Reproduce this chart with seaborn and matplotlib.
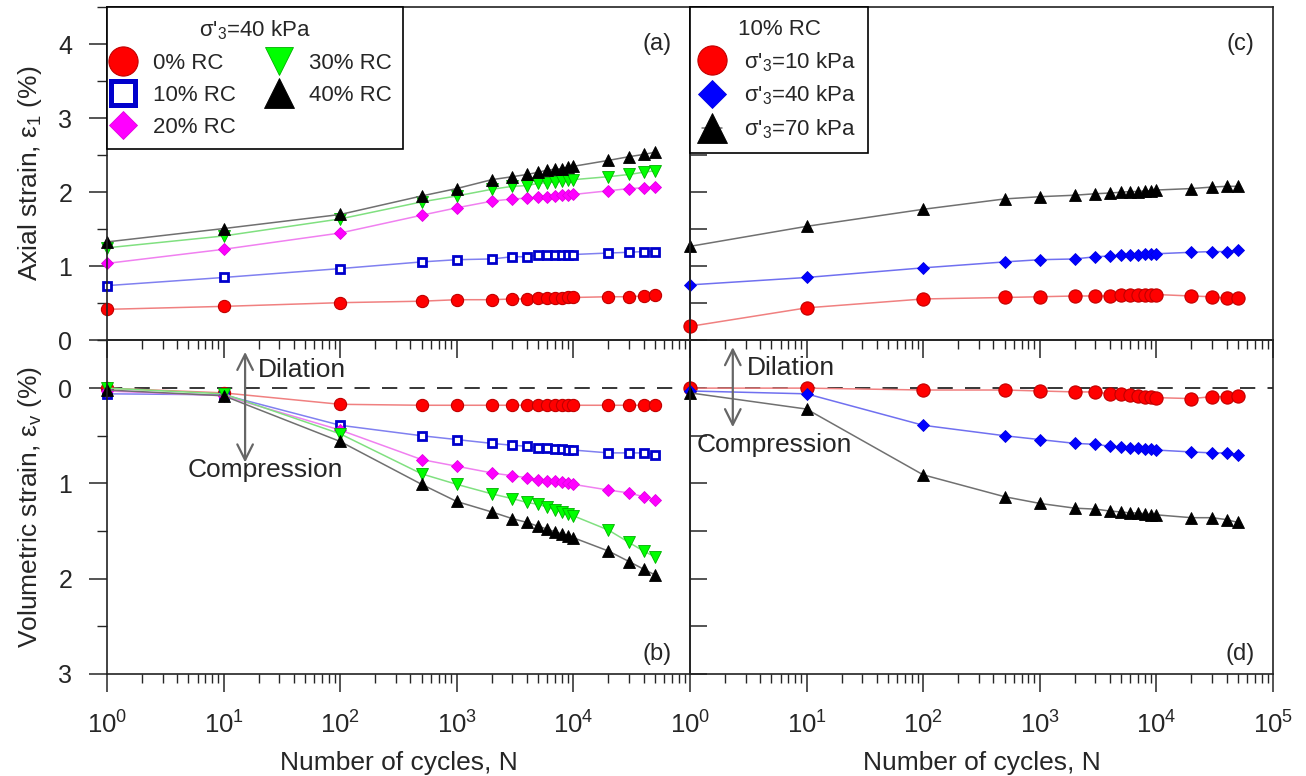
import numpy as np
import pandas as pd
import matplotlib.pyplot as plt
from matplotlib.lines import Line2D
from matplotlib.ticker import LogLocator, NullFormatter, MultipleLocator
import seaborn as sns

sns.set_style('white')
plt.rcParams['font.family'] = ['Liberation Sans', 'DejaVu Sans']
plt.rcParams['mathtext.fontset'] = 'custom'
plt.rcParams['mathtext.rm'] = 'Liberation Sans'
plt.rcParams['mathtext.it'] = 'Liberation Sans:italic'

# Number of loading cycles (same for every series)
cycles = [1, 10, 100, 500, 1000, 2000, 3000, 4000, 5000, 6000, 7000, 8000, 9000,
          10000, 20000, 30000, 40000, 50000]

# (a) axial strain, sigma'3 = 40 kPa, by RC content
axial_rc0 = [0.42, 0.46, 0.51, 0.53, 0.55, 0.55, 0.56, 0.56, 0.57, 0.57, 0.57, 0.57, 0.58, 0.58, 0.59, 0.59, 0.60, 0.61]
axial_rc10 = [0.74, 0.85, 0.97, 1.06, 1.09, 1.10, 1.13, 1.13, 1.15, 1.15, 1.16, 1.16, 1.16, 1.16, 1.18, 1.19, 1.20, 1.20]
axial_rc20 = [1.04, 1.23, 1.45, 1.69, 1.79, 1.88, 1.91, 1.92, 1.93, 1.94, 1.95, 1.96, 1.96, 1.97, 2.02, 2.05, 2.06, 2.07]
axial_rc30 = [1.25, 1.41, 1.64, 1.87, 1.95, 2.04, 2.08, 2.09, 2.12, 2.13, 2.14, 2.15, 2.16, 2.17, 2.21, 2.24, 2.27, 2.29]
axial_rc40 = [1.33, 1.51, 1.70, 1.95, 2.05, 2.17, 2.21, 2.24, 2.27, 2.30, 2.31, 2.32, 2.34, 2.35, 2.43, 2.48, 2.51, 2.54]

# (b) volumetric strain, sigma'3 = 40 kPa, by RC content
vol_rc0 = [0.00, 0.05, 0.17, 0.18, 0.18, 0.18, 0.18, 0.18, 0.18, 0.18, 0.18, 0.18, 0.18, 0.18, 0.18, 0.18, 0.18, 0.18]
vol_rc10 = [0.06, 0.07, 0.39, 0.50, 0.54, 0.58, 0.60, 0.61, 0.63, 0.63, 0.64, 0.64, 0.65, 0.65, 0.68, 0.68, 0.68, 0.70]
vol_rc20 = [0.03, 0.08, 0.44, 0.75, 0.82, 0.89, 0.92, 0.94, 0.96, 0.97, 0.98, 0.99, 1.00, 1.01, 1.07, 1.10, 1.14, 1.17]
vol_rc30 = [0.00, 0.06, 0.48, 0.90, 1.01, 1.11, 1.16, 1.20, 1.22, 1.25, 1.28, 1.30, 1.32, 1.34, 1.49, 1.62, 1.71, 1.77]
vol_rc40 = [0.02, 0.08, 0.56, 1.01, 1.19, 1.30, 1.37, 1.41, 1.45, 1.48, 1.51, 1.53, 1.55, 1.57, 1.71, 1.82, 1.90, 1.96]

# (c) axial strain, 10% RC, by confining pressure
axial_p10 = [0.19, 0.44, 0.56, 0.58, 0.59, 0.60, 0.60, 0.60, 0.61, 0.61, 0.61, 0.62, 0.62, 0.62, 0.60, 0.59, 0.57, 0.57]
axial_p40 = [0.75, 0.85, 0.98, 1.06, 1.09, 1.10, 1.13, 1.14, 1.15, 1.16, 1.16, 1.17, 1.17, 1.17, 1.19, 1.20, 1.20, 1.22]
axial_p70 = [1.27, 1.54, 1.77, 1.91, 1.94, 1.96, 1.98, 1.99, 2.00, 2.01, 2.01, 2.02, 2.02, 2.03, 2.05, 2.07, 2.08, 2.08]

# (d) volumetric strain, 10% RC, by confining pressure
vol_p10 = [0.00, 0.00, 0.02, 0.02, 0.03, 0.04, 0.04, 0.06, 0.06, 0.07, 0.08, 0.09, 0.09, 0.10, 0.11, 0.09, 0.09, 0.08]
vol_p40 = [0.03, 0.06, 0.39, 0.50, 0.54, 0.58, 0.59, 0.61, 0.62, 0.63, 0.63, 0.64, 0.64, 0.65, 0.67, 0.68, 0.68, 0.70]
vol_p70 = [0.05, 0.22, 0.91, 1.14, 1.21, 1.26, 1.27, 1.29, 1.30, 1.31, 1.31, 1.32, 1.33, 1.33, 1.36, 1.36, 1.38, 1.41]

rc_labels = ['0% RC', '10% RC', '20% RC', '30% RC', '40% RC']
p_labels = ["σ'$_3$=10 kPa", "σ'$_3$=40 kPa", "σ'$_3$=70 kPa"]
x_ticks = [1, 10, 100, 1000, 10000, 100000]
x_tick_labels = ['$10^{0}$', '$10^{1}$', '$10^{2}$', '$10^{3}$', '$10^{4}$', '$10^{5}$']

# marker / line styles
st_red = dict(line='#f08080', marker='o', face='#ff0000', edge='#c00000', mew=0.8)
st_blue_sq = dict(line='#8080f0', marker='s', face='white', edge='#0000cc', mew=2.0)
st_mag = dict(line='#f080f0', marker='D', face='#ff00ff', edge='#e000e0', mew=0.6)
st_green = dict(line='#80e080', marker='v', face='#00ff00', edge='#00b000', mew=0.6)
st_black = dict(line='#707070', marker='^', face='black', edge='black', mew=0.6)
st_blue_d = dict(line='#7070f0', marker='D', face='#0000ff', edge='#0000e0', mew=0.6)

ms_plot = {'o': 8.8, 's': 6.0, 'D': 6.3, 'v': 9.0, '^': 9.0}
ms_leg = {'o': 21, 's': 17, 'D': 14.5, 'v': 20, '^': 21}


def draw(ax, y, st, ms=None):
    sns.lineplot(x=cycles, y=y, ax=ax, color=st['line'], lw=1.1,
                 marker=st['marker'], markersize=ms or ms_plot[st['marker']],
                 markerfacecolor=st['face'], markeredgecolor=st['edge'],
                 markeredgewidth=st['mew'], errorbar=None, sort=False, clip_on=False)


def handle(st, mew_scale=1.0):
    return Line2D([], [], color=st['line'], lw=1.1, marker=st['marker'],
                  ms=ms_leg[st['marker']], mfc=st['face'], mec=st['edge'],
                  mew=st['mew'] * mew_scale)


fig, axes = plt.subplots(2, 2, figsize=(13.06, 7.76), dpi=100)
fig.subplots_adjust(left=0.0819, right=0.9747, top=0.991, bottom=0.1315, wspace=0, hspace=0)
ax_a, ax_c = axes[0]
ax_b, ax_d = axes[1]

for y, st in zip([axial_rc0, axial_rc10, axial_rc20, axial_rc30, axial_rc40],
                 [st_red, st_blue_sq, st_mag, st_green, st_black]):
    draw(ax_a, y, st)
for y, st in zip([vol_rc0, vol_rc10, vol_rc20, vol_rc30, vol_rc40],
                 [st_red, st_blue_sq, st_mag, st_green, st_black]):
    draw(ax_b, y, st)
for y, st in zip([axial_p10, axial_p40, axial_p70], [st_red, st_blue_d, st_black]):
    draw(ax_c, y, st, ms=9.5 if st['marker'] == 'o' else None)
for y, st in zip([vol_p10, vol_p40, vol_p70], [st_red, st_blue_d, st_black]):
    draw(ax_d, y, st, ms=9.5 if st['marker'] == 'o' else None)

for ax in axes.flat:
    ax.set_xscale('log')
    ax.set_xlim(1, 1e5)
    ax.set_facecolor('none')
    for sp in ax.spines.values():
        sp.set_linewidth(1.2)
        sp.set_color('#222222')
    ax.xaxis.set_minor_locator(LogLocator(base=10, subs=np.arange(2, 10), numticks=20))
    ax.xaxis.set_minor_formatter(NullFormatter())
    ax.set_xlabel('')
    ax.set_ylabel('')

for ax in (ax_a, ax_c):
    ax.set_ylim(0, 4.5)
    ax.yaxis.set_major_locator(MultipleLocator(1))
    ax.yaxis.set_minor_locator(MultipleLocator(0.5))
    ax.set_xticks(x_ticks)
    ax.tick_params(axis='x', which='both', direction='out', bottom=True, labelbottom=False)
    ax.tick_params(axis='x', which='major', length=13, width=1.1)
    ax.tick_params(axis='x', which='minor', length=6.5, width=1.0)
for ax in (ax_b, ax_d):
    ax.set_ylim(3, -0.5)
    ax.set_yticks([0, 1, 2, 3])
    ax.yaxis.set_minor_locator(MultipleLocator(0.5))
    ax.axhline(0, color='black', lw=1.1, ls=(0, (10, 8)), zorder=0)
    ax.tick_params(axis='x', which='both', direction='out', bottom=True)
    ax.tick_params(axis='x', which='major', length=13, width=1.1, labelsize=18.5, pad=14)
    ax.tick_params(axis='x', which='minor', length=6.5, width=1.0)

ax_b.set_xticks(x_ticks[:-1], x_tick_labels[:-1])
ax_d.set_xticks(x_ticks, x_tick_labels)

for ax in (ax_a, ax_b):
    ax.tick_params(axis='y', which='both', direction='out', left=True, labelsize=18, pad=12)
    ax.tick_params(axis='y', which='major', length=13, width=1.1)
    ax.tick_params(axis='y', which='minor', length=7, width=1.0)
for ax in (ax_c, ax_d):
    ax.tick_params(axis='y', which='both', direction='in', left=True, labelleft=False,
                   length=12, width=1.1)

ax_a.set_ylabel('Axial strain, ε$_1$ (%)', fontsize=19, labelpad=10)
ax_b.set_ylabel('Volumetric strain, ε$_\\mathrm{v}$ (%)', fontsize=19, labelpad=10)
ax_b.set_xlabel('Number of cycles, N', fontsize=19, labelpad=9)
ax_d.set_xlabel('Number of cycles, N', fontsize=19, labelpad=9)

for ax, lab, yy in [(ax_a, '(a)', 0.89), (ax_b, '(b)', 0.06), (ax_c, '(c)', 0.89), (ax_d, '(d)', 0.06)]:
    ax.text(0.968, yy, lab, transform=ax.transAxes, ha='right', va='center', fontsize=17)

# dilation / compression arrows
arrow_kw = dict(arrowstyle='<->', color='#666666', lw=1.6, mutation_scale=28, shrinkA=0, shrinkB=0)
ax_b.annotate('', xy=(15.3, -0.38), xytext=(15.3, 0.78), arrowprops=arrow_kw)
ax_b.text(19.5, -0.19, 'Dilation', fontsize=19, va='center', ha='left')
ax_b.text(4.9, 0.86, 'Compression', fontsize=19, va='center', ha='left')
ax_d.annotate('', xy=(2.33, -0.43), xytext=(2.33, 0.41), arrowprops=arrow_kw)
ax_d.text(3.1, -0.21, 'Dilation', fontsize=19, va='center', ha='left')
ax_d.text(1.15, 0.60, 'Compression', fontsize=19, va='center', ha='left')

# legends
h_a = [handle(st_red), handle(st_blue_sq, 1.8), handle(st_mag), handle(st_green), handle(st_black)]
leg_a = ax_a.legend(h_a, rc_labels, ncol=2, title="σ'$_3$=40 kPa", loc='upper left',
                    bbox_to_anchor=(0, 1), borderaxespad=0, fontsize=16, title_fontsize=16,
                    frameon=True, fancybox=False, framealpha=1, edgecolor='black',
                    handlelength=0.4, handletextpad=1.15, columnspacing=1.75,
                    labelspacing=0.5, borderpad=0.5)
leg_a.get_frame().set_linewidth(1.2)

h_c = [handle(st_red), handle(st_blue_d), handle(st_black)]
leg_c = ax_c.legend(h_c, p_labels, title='10% RC', loc='upper left', bbox_to_anchor=(0, 1),
                    borderaxespad=0, fontsize=16, title_fontsize=16, frameon=True,
                    fancybox=False, framealpha=1, edgecolor='black', handlelength=0.9,
                    handletextpad=1.0, labelspacing=0.45, borderpad=0.55)
leg_c.get_frame().set_linewidth(1.2)

fig.savefig('out.png', dpi=100, facecolor='white')
